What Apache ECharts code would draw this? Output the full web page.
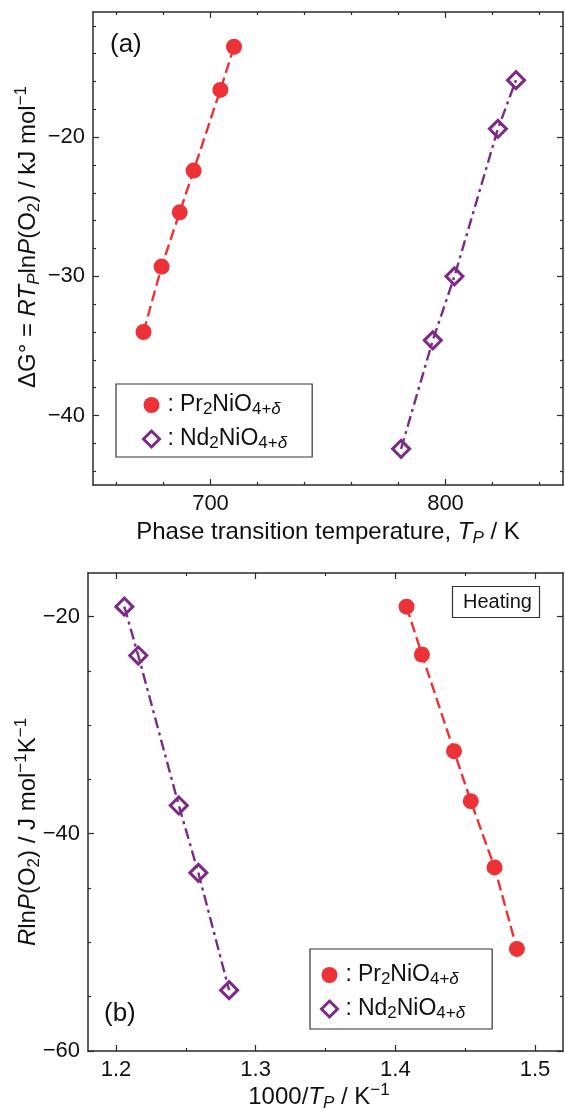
<!DOCTYPE html>
<html>
<head>
<meta charset="utf-8">
<script src="https://cdn.jsdelivr.net/npm/echarts@6/dist/echarts.min.js"></script>
<style>
html,body{margin:0;padding:0;background:#fff;}
#chart{width:565px;height:1111px;}
</style>
</head>
<body>
<div id="chart"></div>
<script>
// ---------- data ----------
// (a) Delta G vs phase-transition temperature
const prT = [671.5, 679.2, 686.9, 692.8, 704.2, 710.0];
const prG = [-34.0, -29.3, -25.4, -22.4, -16.6, -13.5];
const ndT = [781.1, 794.6, 803.8, 822.3, 830.0];
const ndG = [-42.4, -34.6, -30.0, -19.4, -15.9];
// (b) R lnP(O2) vs 1000/T
const prInvT = [1.408, 1.419, 1.442, 1.454, 1.471, 1.487];
const prRlnP = [-19.1, -23.5, -32.4, -37.0, -43.1, -50.6];
const ndInvT = [1.206, 1.216, 1.245, 1.259, 1.281];
const ndRlnP = [-19.1, -23.6, -37.4, -43.6, -54.4];

// ---------- ticks ----------
const aXMajor = [700, 800];
const aXMinor = [660, 680, 720, 740, 760, 780, 820, 840];
const aYMajor = [-40, -30, -20];
const aYMinor = [-44, -42, -38, -36, -34, -32, -28, -26, -24, -22, -18, -16, -14, -12];
const bXMajor = [1.2, 1.3, 1.4, 1.5];
const bXMinor = [1.25, 1.35, 1.45];
const bYMajor = [-60, -40, -20];
const bYMinor = [-55, -50, -45, -35, -30, -25];

const seriesNames = ['Pr2NiO4+δ', 'Nd2NiO4+δ'];

const FONT = "'Liberation Sans', Arial, Helvetica, sans-serif";
const RED = '#ec3237';
const PURPLE = '#7b2a86';
const AX = '#2a2a2a';

const richTitle = {
  it:   {fontFamily: FONT, fontSize: 24, fontStyle: 'italic', lineHeight: 30, color: '#111'},
  sub:  {fontFamily: FONT, fontSize: 17, lineHeight: 16, verticalAlign: 'bottom', color: '#111'},
  subi: {fontFamily: FONT, fontSize: 17, lineHeight: 16, verticalAlign: 'bottom', fontStyle: 'italic', color: '#111'},
  sup:  {fontFamily: FONT, fontSize: 17, lineHeight: 16, verticalAlign: 'top', color: '#111'}
};

const minusFmt = v => String(v).replace('-', '\u2212');

function axesFor(dim, gridIndex, min, max, major, minor, labelPos) {
  const out = [];
  const opp = dim === 'x' ? 'top' : 'right';
  [labelPos, opp].forEach((pos, k) => {
    out.push({
      type: 'value', gridIndex, position: pos, min, max,
      axisLine: {show: true, onZero: false, lineStyle: {color: AX, width: 1.5}},
      axisTick: {show: true, inside: true, length: 6, customValues: major, lineStyle: {color: AX, width: 1.2}},
      axisLabel: k === 0 ? {show: true, customValues: major, formatter: minusFmt, fontFamily: FONT, fontSize: 22, color: '#111', margin: 8} : {show: false},
      splitLine: {show: false}
    });
    out.push({
      type: 'value', gridIndex, position: pos, min, max,
      axisLine: {show: false, onZero: false},
      axisTick: {show: true, inside: true, length: 3, customValues: minor, lineStyle: {color: AX, width: 1.2}},
      axisLabel: {show: false},
      splitLine: {show: false}
    });
  });
  return out;
}

const xAxes = [].concat(
  axesFor('x', 0, 650, 850, aXMajor, aXMinor, 'bottom'),   // 0..3
  axesFor('x', 1, 1.18, 1.52, bXMajor, bXMinor, 'bottom')   // 4..7
);
const yAxes = [].concat(
  axesFor('y', 0, -45, -11, aYMajor, aYMinor, 'left'),      // 0..3
  axesFor('y', 1, -60, -16, bYMajor, bYMinor, 'left')       // 4..7
);

const zip = (a, b) => a.map((v, i) => [v, b[i]]);

function prSeries(xi, yi, xs, ys) {
  return {
    name: seriesNames[0], type: 'line', xAxisIndex: xi, yAxisIndex: yi,
    data: zip(xs, ys), symbol: 'circle', symbolSize: 16,
    itemStyle: {color: RED},
    lineStyle: {color: RED, width: 2.4, type: [11, 5]},
    emphasis: {disabled: true}
  };
}
function ndSeries(xi, yi, xs, ys) {
  return {
    name: seriesNames[1], type: 'line', xAxisIndex: xi, yAxisIndex: yi,
    data: zip(xs, ys), symbol: 'diamond', symbolSize: 17,
    itemStyle: {color: 'rgba(255,255,255,0)', borderColor: PURPLE, borderWidth: 3},
    lineStyle: {color: PURPLE, width: 2.4, type: [11, 4.5, 3, 4.5]},
    emphasis: {disabled: true}
  };
}

const legendRich = {
  c:  {fontFamily: FONT, fontSize: 23, lineHeight: 26, color: '#111', padding: [0, 6, 0, 3]},
  s:  {fontFamily: FONT, fontSize: 17, lineHeight: 15, verticalAlign: 'bottom', color: '#111'},
  si: {fontFamily: FONT, fontSize: 17, lineHeight: 15, verticalAlign: 'bottom', fontStyle: 'italic', color: '#111'}
};
const legendFmt = name => name === seriesNames[0]
  ? '{c|:}Pr{s|2}NiO{s|4+}{si|δ}'
  : '{c|:}Nd{s|2}NiO{s|4+}{si|δ}';

function legendAt(left, top, padding) {
  return {
    orient: 'vertical', left, top, padding,
    itemGap: 8, itemWidth: 16, itemHeight: 16,
    borderColor: '#333', borderWidth: 1.2, borderRadius: 0,
    selectedMode: false,
    data: [
      {name: seriesNames[0], icon: 'circle', itemStyle: {color: RED}},
      {name: seriesNames[1], icon: 'diamond', itemStyle: {color: 'rgba(255,255,255,0)', borderColor: PURPLE, borderWidth: 3}}
    ],
    formatter: legendFmt,
    textStyle: {fontFamily: FONT, fontSize: 23, lineHeight: 26, color: '#111', rich: legendRich}
  };
}

function titleText(x, y, text, rot) {
  return {
    type: 'text', x, y, rotation: rot || 0,
    style: {
      text, rich: richTitle, fontFamily: FONT, fontSize: 24, lineHeight: 30, fill: '#111',
      align: 'center', verticalAlign: 'middle', textAlign: 'center', textVerticalAlign: 'middle'
    }
  };
}

const option = {
  animation: false,
  backgroundColor: '#fff',
  grid: [
    {left: 93, top: 12, right: 2, height: 473},
    {left: 88, top: 573, right: 2, height: 478}
  ],
  xAxis: xAxes,
  yAxis: yAxes,
  title: [
    {text: '(a)', left: 110, top: 32, padding: 0, textStyle: {fontFamily: FONT, fontSize: 26, fontWeight: 'normal', color: '#111'}},
    {text: '(b)', left: 104, top: 1001, padding: 0, textStyle: {fontFamily: FONT, fontSize: 26, fontWeight: 'normal', color: '#111'}},
    {text: 'Heating', left: 452, top: 586, padding: [6, 8, 6, 11], borderColor: '#333', borderWidth: 1.2,
     textStyle: {fontFamily: FONT, fontSize: 20, fontWeight: 'normal', color: '#111'}}
  ],
  legend: [
    legendAt(116, 384, [8, 25, 5, 26]),
    legendAt(310, 949, [13, 27, 7, 10])
  ],
  graphic: [
    titleText(328, 532, 'Phase transition temperature, {it|T}{subi|P} / K'),
    titleText(28, 237, 'ΔG° = {it|RT}{subi|P}ln{it|P}(O{sub|2}) / kJ mol{sup|\u22121}', Math.PI / 2),
    titleText(319, 1097, '1000/{it|T}{subi|P} / K{sup|\u22121}'),
    titleText(28, 832, '{it|R}ln{it|P}(O{sub|2}) / J mol{sup|\u22121}K{sup|\u22121}', Math.PI / 2)
  ],
  series: [
    prSeries(0, 0, prT, prG),
    ndSeries(0, 0, ndT, ndG),
    prSeries(4, 4, prInvT, prRlnP),
    ndSeries(4, 4, ndInvT, ndRlnP)
  ]
};

const chart = echarts.init(document.getElementById('chart'), null, {renderer: 'canvas'});
chart.setOption(option);
</script>
</body>
</html>
